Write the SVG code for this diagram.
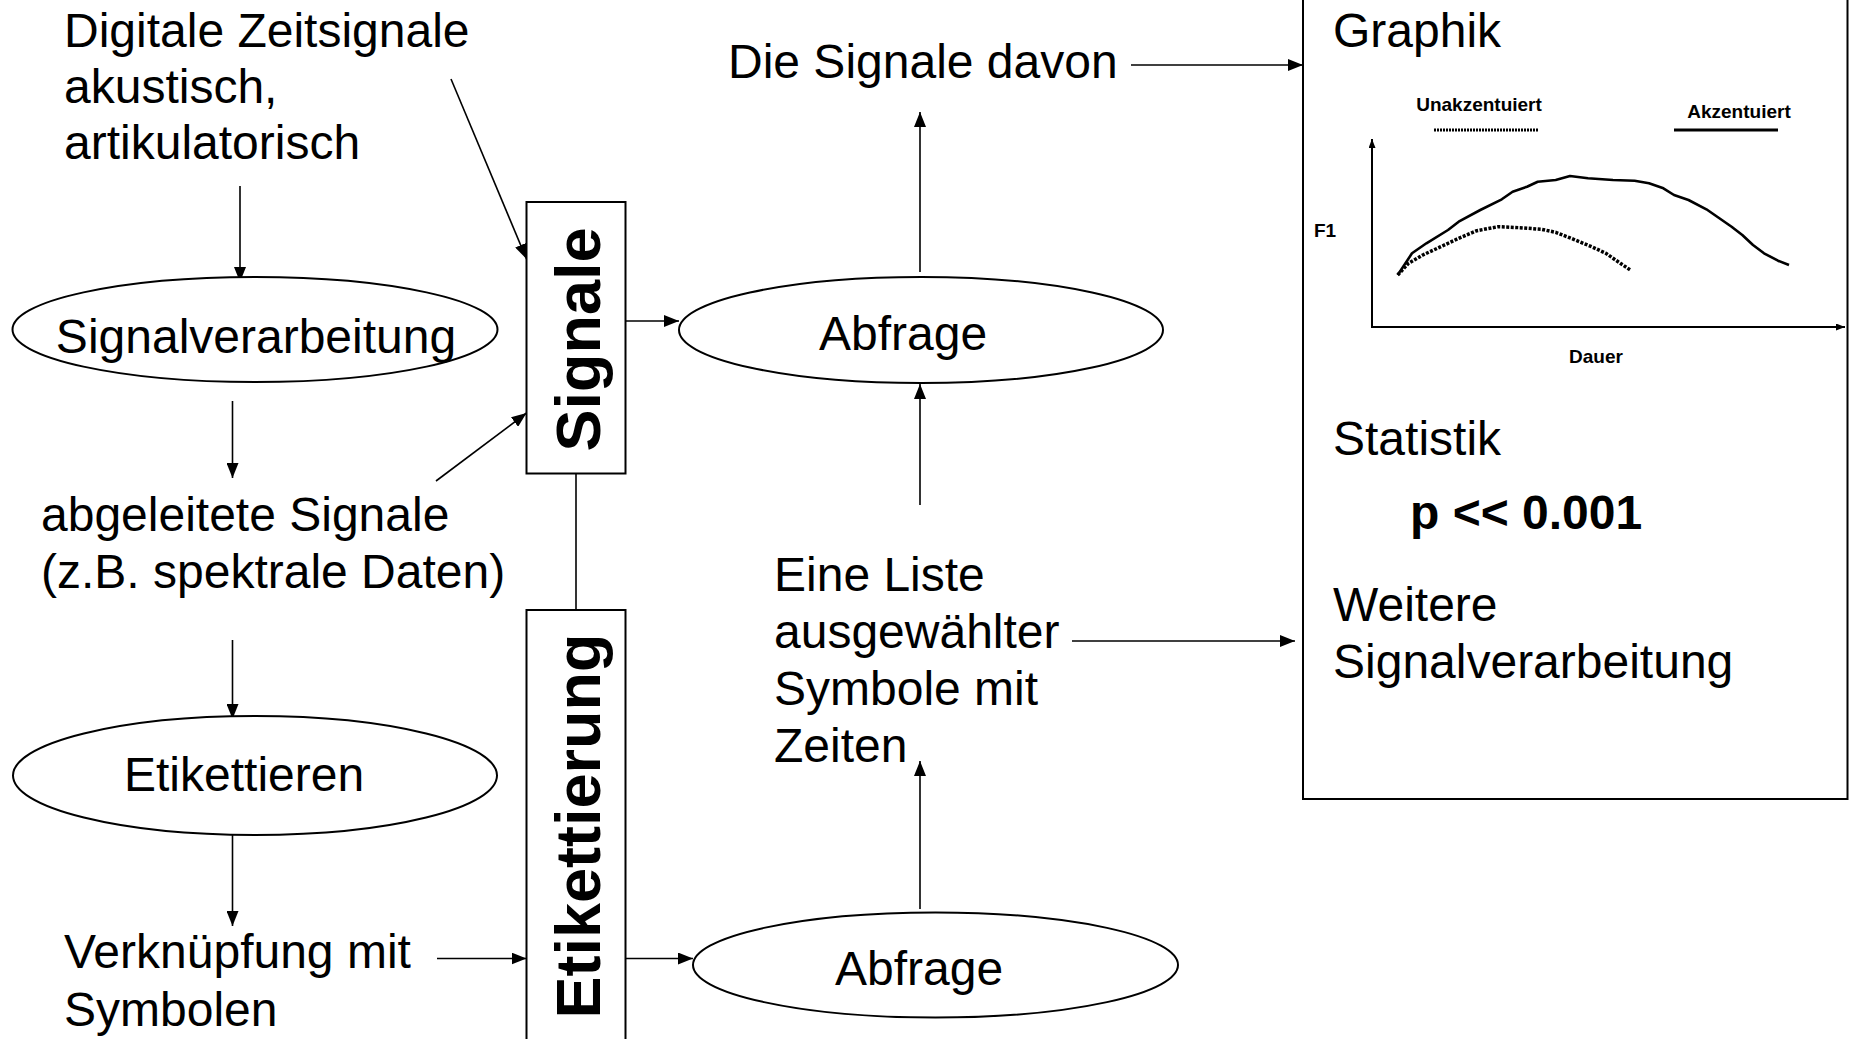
<svg xmlns="http://www.w3.org/2000/svg" width="1851" height="1039" viewBox="0 0 1851 1039">
<style>
text{font-family:"Liberation Sans",Arial,sans-serif;fill:#000}
.t{font-size:48px}
.b{font-size:63px;font-weight:bold}
.s{font-size:19px;font-weight:bold}
.shape{fill:#fff;stroke:#000;stroke-width:2}
.c{fill:none;stroke:#000;stroke-width:1.6}
</style>
<defs>
<marker id="ah" markerUnits="userSpaceOnUse" markerWidth="15" markerHeight="12" refX="15" refY="6" orient="auto">
<path d="M0,0 L15,6 L0,12 z" fill="#000"/>
</marker>
<marker id="ahs" markerUnits="userSpaceOnUse" markerWidth="9" markerHeight="7" refX="9" refY="3.5" orient="auto">
<path d="M0,0 L9,3.5 L0,7 z" fill="#000"/>
</marker>
</defs>
<rect width="1851" height="1039" fill="#fff"/>

<g id="connectors">
<line class="c" x1="240" y1="186" x2="240" y2="282" marker-end="url(#ah)"/>
<line class="c" x1="232.5" y1="401" x2="232.5" y2="478" marker-end="url(#ah)"/>
<line class="c" x1="232.5" y1="640" x2="232.5" y2="719" marker-end="url(#ah)"/>
<line class="c" x1="232.5" y1="834" x2="232.5" y2="926" marker-end="url(#ah)"/>
<line class="c" x1="437" y1="958.5" x2="526.5" y2="958.5" marker-end="url(#ah)"/>
<line class="c" x1="451" y1="79" x2="526.5" y2="259" marker-end="url(#ah)"/>
<line class="c" x1="436" y1="481" x2="526.5" y2="413" marker-end="url(#ah)"/>
<line class="c" x1="576" y1="473.5" x2="576" y2="610"/>
<line class="c" x1="626" y1="321" x2="679" y2="321" marker-end="url(#ah)"/>
<line class="c" x1="626" y1="958.5" x2="693" y2="958.5" marker-end="url(#ah)"/>
<line class="c" x1="920" y1="272" x2="920" y2="112" marker-end="url(#ah)"/>
<line class="c" x1="920" y1="505" x2="920" y2="384" marker-end="url(#ah)"/>
<line class="c" x1="920" y1="909" x2="920" y2="761" marker-end="url(#ah)"/>
<line class="c" x1="1131" y1="65" x2="1303" y2="65" marker-end="url(#ah)"/>
<line class="c" x1="1072" y1="641" x2="1295" y2="641" marker-end="url(#ah)"/>
</g>

<g id="n-digitale">
<text class="t" x="64" y="47">Digitale Zeitsignale</text>
<text class="t" x="64" y="103">akustisch,</text>
<text class="t" x="64" y="159">artikulatorisch</text>
</g>

<g id="n-signalverarbeitung">
<ellipse class="shape" cx="255" cy="329.5" rx="242.5" ry="52.5"/>
<text class="t" x="256" y="353" text-anchor="middle">Signalverarbeitung</text>
</g>

<g id="n-abgeleitete">
<text class="t" x="41" y="531">abgeleitete Signale</text>
<text class="t" x="41" y="588">(z.B. spektrale Daten)</text>
</g>

<g id="n-etikettieren">
<ellipse class="shape" cx="255" cy="775.5" rx="242" ry="59.5"/>
<text class="t" x="124" y="791">Etikettieren</text>
</g>

<g id="n-verknuepfung">
<text class="t" x="64" y="968">Verknüpfung mit</text>
<text class="t" x="64" y="1026">Symbolen</text>
</g>

<g id="n-signale">
<rect class="shape" x="526.5" y="202" width="99" height="271.5"/>
<text class="b" transform="translate(600,339.5) rotate(-90)" text-anchor="middle">Signale</text>
</g>

<g id="n-etikettierung">
<rect class="shape" x="526.5" y="610" width="99" height="450"/>
<text class="b" transform="translate(600,826) rotate(-90)" text-anchor="middle">Etikettierung</text>
</g>

<g id="n-abfrage1">
<ellipse class="shape" cx="921" cy="330" rx="242" ry="53"/>
<text class="t" x="819" y="350">Abfrage</text>
</g>

<g id="n-signale-davon">
<text class="t" x="728" y="78">Die Signale davon</text>
</g>

<g id="n-eine-liste">
<text class="t" x="774" y="591">Eine Liste</text>
<text class="t" x="774" y="648">ausgewählter</text>
<text class="t" x="774" y="705">Symbole mit</text>
<text class="t" x="774" y="762">Zeiten</text>
</g>

<g id="n-abfrage2">
<ellipse class="shape" cx="935.5" cy="965" rx="242.5" ry="52.5"/>
<text class="t" x="835" y="985">Abfrage</text>
</g>

<g id="n-ergebnis">
<rect class="shape" x="1303" y="-5" width="544.5" height="804"/>
<text class="t" x="1333" y="47">Graphik</text>
<text class="s" x="1479" y="111" text-anchor="middle">Unakzentuiert</text>
<line x1="1434" y1="130" x2="1539" y2="130" stroke="#000" stroke-width="3" stroke-dasharray="2 1"/>
<text class="s" x="1739" y="118" text-anchor="middle">Akzentuiert</text>
<line x1="1674" y1="130" x2="1778" y2="130" stroke="#000" stroke-width="3"/>
<line x1="1372" y1="327" x2="1372" y2="139" stroke="#000" stroke-width="2" marker-end="url(#ahs)"/>
<line x1="1371" y1="327" x2="1845" y2="327" stroke="#000" stroke-width="2" marker-end="url(#ahs)"/>
<text class="s" x="1314" y="237">F1</text>
<text class="s" x="1596" y="363" text-anchor="middle">Dauer</text>
<polyline fill="none" stroke="#000" stroke-width="2.6" stroke-linejoin="round" points="1397.7,275 1412,253.3 1426.4,243.3 1448,230 1458.7,221.7 1480.3,210 1501.8,199.3 1512.6,191.7 1527,186.7 1537.7,181.7 1555.7,180 1570,176 1588,178.3 1613,180 1634.6,180.7 1649,183.3 1663.4,188.3 1674,195 1688.5,200 1706.4,209.3 1717.2,216.7 1731.6,226.7 1742.3,235 1753,245 1764,253.3 1778,260.7 1789,265"/>
<polyline fill="none" stroke="#000" stroke-width="3.5" stroke-dasharray="3 1.5" stroke-linejoin="round" points="1397.7,275 1408.5,263.3 1422.8,255 1440.8,246.7 1458.7,238.3 1476.7,230.7 1498.2,226.7 1519.8,227.7 1541.3,229.3 1555.7,232.3 1573.6,239.3 1591.6,246.7 1605.9,253.3 1620.3,263.3 1630.3,270"/>
<text class="t" x="1333" y="455">Statistik</text>
<text class="t" x="1410" y="529" font-weight="bold">p &lt;&lt; 0.001</text>
<text class="t" x="1333" y="621">Weitere</text>
<text class="t" x="1333" y="678">Signalverarbeitung</text>
</g>
</svg>
